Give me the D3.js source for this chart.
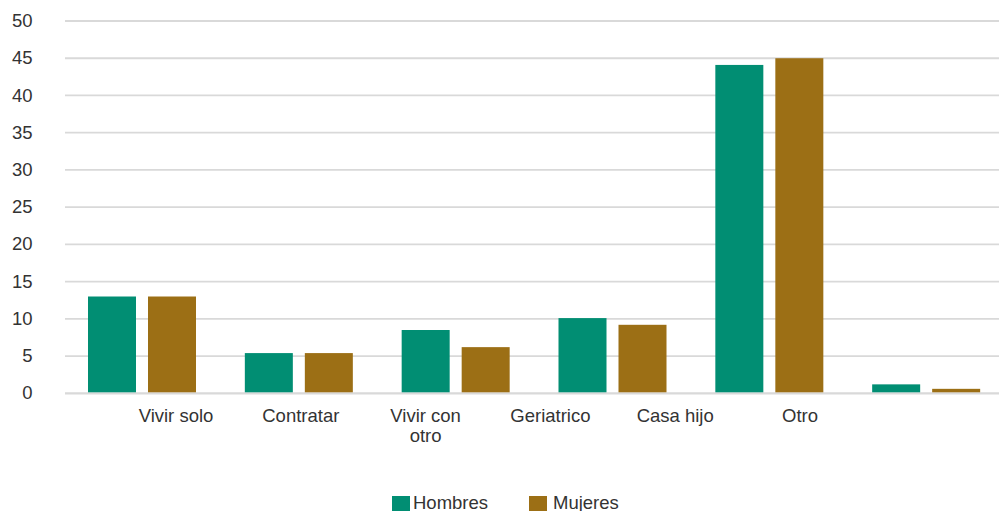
<!DOCTYPE html>
<html>
<head>
<meta charset="utf-8">
<script src="https://cdn.jsdelivr.net/npm/d3@7"></script>
<style>
  html, body { margin: 0; padding: 0; background: #fff; }
  svg text { font-family: "Liberation Sans", Arial, sans-serif; fill: #333; }
</style>
</head>
<body>
<svg id="chart" width="999" height="511"></svg>
<script>
// Category labels along the x axis
const categories = ["Vivir solo", "Contratar", "Vivir con otro", "Geriatrico", "Casa hijo", "Otro"];
// Bar groups (six groups, the last one has no label)
const groups = ["g1", "g2", "g3", "g4", "g5", "g6"];
const seriesNames = ["Hombres", "Mujeres"];
const hombres = [13.0, 5.4, 8.5, 10.1, 44.1, 1.2];
const mujeres = [13.0, 5.4, 6.2, 9.2, 45.0, 0.6];
const yTicks = [0, 5, 10, 15, 20, 25, 30, 35, 40, 45, 50];
const colors = ["#018e73", "#9c6f15"];

const svg = d3.select("#chart");
const W = 999, H = 511;
const plotLeft = 65, plotRight = 1006, plotTop = 21, plotBottom = 393.3;
const fontSize = 18.5;

const y = d3.scaleLinear().domain([0, 50]).range([plotBottom, plotTop]);
const x0 = d3.scaleBand().domain(groups).range([plotLeft, plotRight]).paddingInner(0).paddingOuter(0);
const x1 = d3.scaleBand().domain(seriesNames).range([23, 131]).paddingInner(0.2).paddingOuter(0);
const xLabels = d3.scaleBand().domain(categories).range([113.6, 862.4]);

// Gridlines
const grid = svg.append("g");
grid.selectAll("line").data(yTicks).join("line")
  .attr("x1", plotLeft).attr("x2", W)
  .attr("y1", d => y(d)).attr("y2", d => y(d))
  .attr("stroke", "#d9d9d9")
  .attr("stroke-width", d => d === 0 ? 2.2 : 1.8);

// Y axis labels
const yAxis = d3.axisLeft(y).tickValues(yTicks).tickSize(0).tickPadding(0);
const yg = svg.append("g").attr("transform", "translate(32.5,0)").call(yAxis);
yg.select(".domain").remove();
yg.selectAll("text").attr("font-size", fontSize).attr("font-family", null).attr("dy", "0.3em");

// Bars
const data = groups.map((g, i) => ({ g, values: [hombres[i], mujeres[i]] }));
const gg = svg.append("g").selectAll("g").data(data).join("g")
  .attr("transform", d => `translate(${x0(d.g)},0)`);
gg.selectAll("rect").data(d => d.values.map((v, j) => ({ s: seriesNames[j], v, j })))
  .join("rect")
  .attr("x", d => x1(d.s))
  .attr("width", x1.bandwidth())
  .attr("y", d => y(d.v))
  .attr("height", d => y(0) - y(d.v) - 1)
  .attr("fill", d => colors[d.j]);

// X axis labels (wrapped)
const xAxis = d3.axisBottom(xLabels).tickSize(0).tickPadding(0);
const xg = svg.append("g").attr("transform", `translate(0,${plotBottom})`).call(xAxis);
xg.select(".domain").remove();
xg.selectAll("text")
  .attr("font-size", fontSize).attr("font-family", null)
  .attr("y", 28.5).attr("dy", 0)
  .each(function () {
    const t = d3.select(this);
    const words = t.text().split(" ");
    if (t.node().getComputedTextLength() > 95 && words.length > 2) {
      t.text(null);
      t.append("tspan").attr("x", 0).attr("y", 28.5).text(words.slice(0, 2).join(" "));
      t.append("tspan").attr("x", 0).attr("y", 48.5).text(words.slice(2).join(" "));
    }
  });

// Legend
const legend = svg.append("g");
const legendX = [392, 529];
seriesNames.forEach((s, i) => {
  legend.append("rect").attr("x", legendX[i]).attr("y", 496).attr("width", 18).attr("height", 18).attr("fill", colors[i]);
  legend.append("text").attr("x", legendX[i] + 21 + (i === 1 ? 3 : 0)).attr("y", 508.5)
    .attr("font-size", fontSize).text(s);
});
</script>
</body>
</html>
